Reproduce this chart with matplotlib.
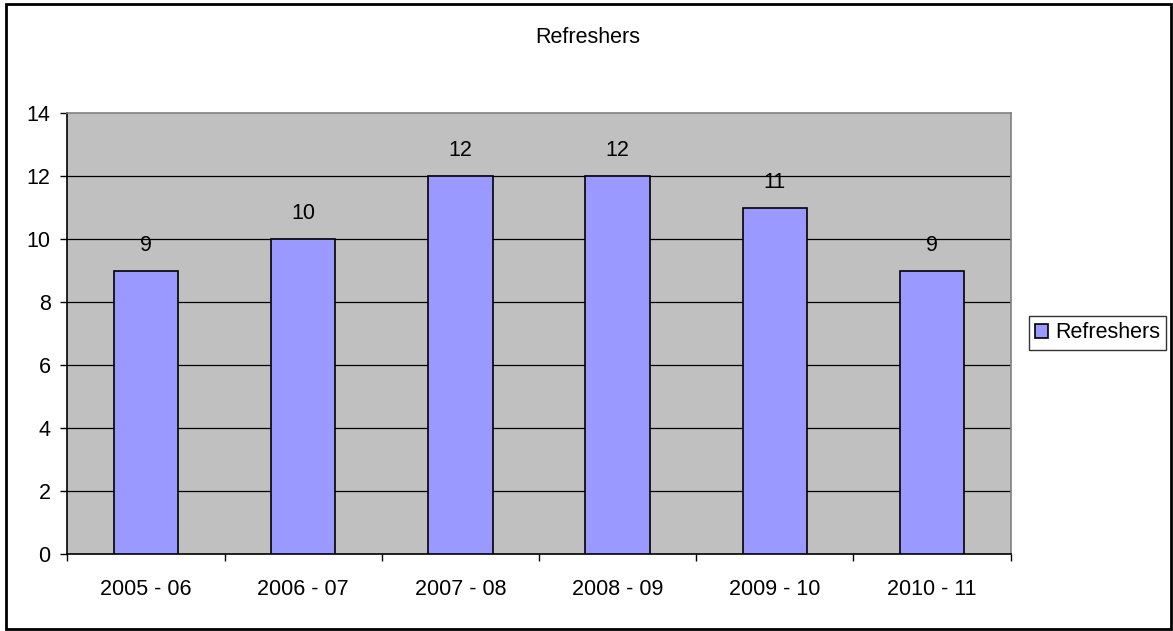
import matplotlib.pyplot as plt
from matplotlib.patches import Rectangle

plt.rcParams['font.family'] = ['Liberation Sans', 'DejaVu Sans']

years = ['2005 - 06', '2006 - 07', '2007 - 08', '2008 - 09', '2009 - 10', '2010 - 11']
refreshers = [9, 10, 12, 12, 11, 9]
y_ticks = [0, 2, 4, 6, 8, 10, 12, 14]
fs = 15.5

fig = plt.figure(figsize=(11.73, 6.31), dpi=100)
ax = fig.add_axes([0.0574, 0.1216, 0.8042, 0.6988])
ax.set_facecolor('#C0C0C0')

x = list(range(len(years)))
ax.bar(x, refreshers, width=0.41, color='#9999FF', edgecolor='black',
       linewidth=1.2, label='Refreshers', zorder=3)

for xi, v in zip(x, refreshers):
    ax.annotate(str(v), (xi, v), xytext=(0, 14.5), textcoords='offset points',
                ha='center', va='baseline', fontsize=fs)

ax.set_xlim(-0.5, len(years) - 0.5)
ax.set_ylim(0, 14)
ax.set_yticks(y_ticks)
ax.tick_params(axis='y', labelsize=fs, length=5, width=1, direction='out', pad=7)

# category labels centred, ticks on category boundaries
ax.set_xticks(x)
ax.set_xticklabels(years, fontsize=fs)
ax.tick_params(axis='x', which='major', length=0, pad=18)
ax.set_xticks([i - 0.5 for i in range(len(years) + 1)], minor=True)
ax.tick_params(axis='x', which='minor', length=5, width=1, direction='out')

for t in y_ticks[1:-1]:
    ax.axhline(t, color='black', linewidth=0.9, zorder=1)

ax.spines['left'].set_color('black')
ax.spines['bottom'].set_color('black')
ax.spines['top'].set_color('#808080')
ax.spines['right'].set_color('#808080')
for s in ax.spines.values():
    s.set_linewidth(1.2)

fig.text(0.501, 0.941, 'Refreshers', ha='center', va='center', fontsize=fs)

leg = ax.legend(loc='center left', bbox_to_anchor=(1029 / 1173, 0.4723),
                bbox_transform=fig.transFigure, borderaxespad=0, fontsize=fs,
                frameon=True, fancybox=False, edgecolor='black',
                handlelength=0.6, handleheight=0.6, handletextpad=0.3,
                borderpad=0.3)
leg.get_frame().set_linewidth(1)

fig.patches.append(Rectangle((6 / 1173, 2 / 631), 1165 / 1173, 625 / 631,
                             transform=fig.transFigure, fill=False,
                             edgecolor='black', linewidth=2))

fig.savefig('out.png', dpi=100)
